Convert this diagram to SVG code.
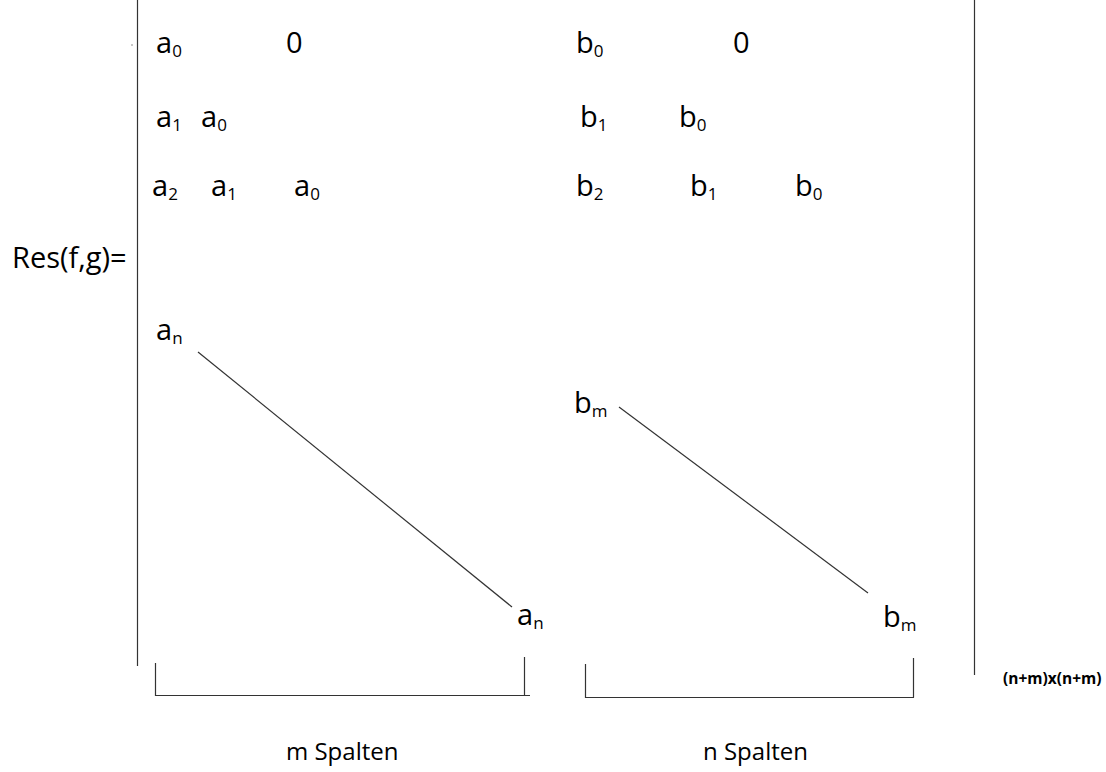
<svg xmlns="http://www.w3.org/2000/svg" width="1106" height="772" viewBox="0 0 1106 772">
  <style>
    .t { font-family: "Open Sans", "Liberation Sans", sans-serif; font-size: 29px; fill: #000; }
    .s { font-size: 17px; }
    .lbl { font-family: "Open Sans", "Liberation Sans", sans-serif; font-size: 24px; fill: #000; }
    .dim { font-family: "Open Sans", "Liberation Sans", sans-serif; font-size: 15.5px; font-weight: bold; fill: #000; }
    .ln { stroke: #333; stroke-width: 1.2; fill: none; }
  </style>
  <rect width="1106" height="772" fill="#fff"/>

  <!-- determinant bars and column braces -->
  <g id="connectors">
    <line class="ln" x1="137.5" y1="0" x2="137.5" y2="666"/>
    <line class="ln" x1="974.5" y1="0" x2="974.5" y2="675"/>
    <circle cx="132" cy="45" r="0.7" fill="#666"/>
    <!-- diagonals -->
    <line class="ln" x1="198" y1="352" x2="512" y2="607"/>
    <line class="ln" x1="619" y1="407" x2="868" y2="593"/>
    <!-- brace under the a-columns -->
    <path class="ln" d="M155.5 663 V695.5 H530 M524.5 657 V695.5"/>
    <!-- brace under the b-columns -->
    <path class="ln" d="M585.5 664 V697.5 H914 M913.5 658 V697.5"/>
  </g>

  <g id="label-res">
    <text class="t" x="12" y="268">Res(f,g)=</text>
  </g>

  <!-- a-block -->
  <g id="a-entries">
    <text class="t" x="156" y="53">a<tspan class="s" dy="4">0</tspan></text>
    <text class="t" x="286" y="53">0</text>
    <text class="t" x="156" y="127">a<tspan class="s" dy="4">1</tspan></text>
    <text class="t" x="201" y="127">a<tspan class="s" dy="4">0</tspan></text>
    <text class="t" x="152" y="196">a<tspan class="s" dy="4">2</tspan></text>
    <text class="t" x="211" y="196">a<tspan class="s" dy="4">1</tspan></text>
    <text class="t" x="294" y="196">a<tspan class="s" dy="4">0</tspan></text>
    <text class="t" x="156" y="340">a<tspan class="s" dy="4">n</tspan></text>
    <text class="t" x="517" y="625">a<tspan class="s" dy="4">n</tspan></text>
  </g>

  <!-- b-block -->
  <g id="b-entries">
    <text class="t" x="576" y="53">b<tspan class="s" dy="4">0</tspan></text>
    <text class="t" x="733" y="53">0</text>
    <text class="t" x="580" y="127">b<tspan class="s" dy="4">1</tspan></text>
    <text class="t" x="679" y="127">b<tspan class="s" dy="4">0</tspan></text>
    <text class="t" x="576" y="196">b<tspan class="s" dy="4">2</tspan></text>
    <text class="t" x="690" y="196">b<tspan class="s" dy="4">1</tspan></text>
    <text class="t" x="795" y="196">b<tspan class="s" dy="4">0</tspan></text>
    <text class="t" x="574" y="413">b<tspan class="s" dy="4">m</tspan></text>
    <text class="t" x="883" y="627">b<tspan class="s" dy="4">m</tspan></text>
  </g>

  <g id="label-size">
    <text class="dim" x="1003" y="684">(n+m)x(n+m)</text>
  </g>
  <g id="label-m">
    <text class="lbl" x="286" y="760">m Spalten</text>
  </g>
  <g id="label-n">
    <text class="lbl" x="703" y="760">n Spalten</text>
  </g>
</svg>
